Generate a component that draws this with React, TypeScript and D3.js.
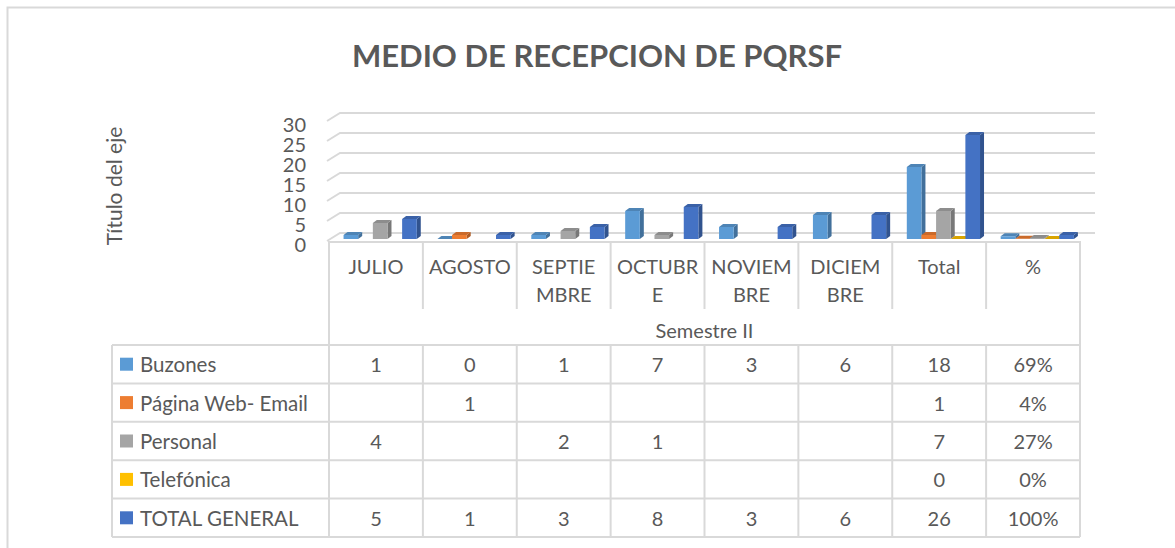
import * as d3 from 'd3';
import React, { useRef, useEffect, useCallback } from 'react';

// categories on the x axis (and the columns of the data table)
const categories = ["JULIO", "AGOSTO", "SEPTIEMBRE", "OCTUBRE", "NOVIEMBRE", "DICIEMBRE", "Total", "%"];
// how Excel wrapped them
const categoryLabels = [["JULIO"], ["AGOSTO"], ["SEPTIE", "MBRE"], ["OCTUBR", "E"], ["NOVIEM", "BRE"], ["DICIEM", "BRE"], ["Total"], ["%"]];

const seriesNames = ["Buzones", "Página Web- Email", "Personal", "Telefónica", "TOTAL GENERAL"];
const seriesColors = ["#5B9BD5", "#ED7D31", "#A5A5A5", "#FFC000", "#4472C4"];

// null = empty cell (no bar)
const buzones = [1, 0, 1, 7, 3, 6, 18, 0.69];
const paginaWeb = [null, 1, null, null, null, null, 1, 0.04];
const personal = [4, null, 2, 1, null, null, 7, 0.27];
const telefonica = [null, null, null, null, null, null, 0, 0];
const totalGeneral = [5, 1, 3, 8, 3, 6, 26, 1];

const yTicks = [0, 5, 10, 15, 20, 25, 30];

const seriesValues = [buzones, paginaWeb, personal, telefonica, totalGeneral];

function App() {
    const ref = useRef(null);
    const width = 1175;
    const height = 548;

    const draw = useCallback(() => {
        const svg = d3.select(ref.current);
        svg.selectAll("*").remove();

        const textColor = "#595959";
        const lineColor = "#D9D9D9";
        const font = "Lato, 'Open Sans', sans-serif";

        // chart frame
        svg.append("rect")
            .attr("x", 7.5).attr("y", 7.5)
            .attr("width", width + 20).attr("height", height + 20)
            .attr("fill", "white")
            .attr("stroke", lineColor)
            .attr("stroke-width", 2);

        svg.append("text")
            .attr("x", 597).attr("y", 55)
            .attr("text-anchor", "middle")
            .attr("dominant-baseline", "central")
            .attr("font-family", font)
            .attr("font-weight", "bold")
            .attr("font-size", 31)
            .attr("fill", textColor)
            .text("MEDIO DE RECEPCION DE PQRSF");

        const tableLeft = 112;
        const x0 = d3.scaleBand()
            .domain(categories)
            .range([329, 1080]);

        const bw = x0.bandwidth();
        const x1 = d3.scaleBand()
            .domain(seriesNames)
            .range([bw * 0.155, bw * 0.935]);

        const y = d3.scaleLinear()
            .domain([0, 30])
            .range([239, 119]);

        // back wall gridlines with the diagonal floor/side edge
        const grid = svg.append("g")
            .attr("stroke", lineColor)
            .attr("stroke-width", 2)
            .attr("fill", "none");
        grid.selectAll("path")
            .data(yTicks)
            .join("path")
            .attr("d", d => `M327,${y(d) + 2}L340,${y(d) - 6}L1095,${y(d) - 6}`);

        svg.append("g")
            .selectAll("text")
            .data(yTicks)
            .join("text")
            .attr("x", 306)
            .attr("y", d => y(d) + 5)
            .attr("text-anchor", "end")
            .attr("dominant-baseline", "central")
            .attr("font-family", font)
            .attr("font-size", 20)
            .attr("fill", textColor)
            .text(d => d);

        svg.append("text")
            .attr("transform", "translate(113,186) rotate(-90)")
            .attr("text-anchor", "middle")
            .attr("dominant-baseline", "central")
            .attr("font-family", font)
            .attr("font-size", 21)
            .attr("fill", textColor)
            .text("Título del eje");

        // 3D columns
        const dx = 4, dy = -3;
        const bars = [];
        categories.forEach((c, ci) => {
            seriesNames.forEach((s, si) => {
                const v = seriesValues[si][ci];
                if (v === null) return;
                bars.push({ c, s, v, color: seriesColors[si] });
            });
        });

        const barG = svg.append("g");
        bars.forEach(b => {
            const x = x0(b.c) + x1(b.s);
            const w = x1.bandwidth();
            const y0 = y(0);
            const yt = y(b.v);
            const g = barG.append("g");
            const base = d3.color(b.color);
            g.append("path")
                .attr("d", `M${x + w},${yt}L${x + w + dx},${yt + dy}L${x + w + dx},${y0 + dy}L${x + w},${y0}Z`)
                .attr("fill", base.darker(0.9).formatHex());
            g.append("path")
                .attr("d", `M${x},${yt}L${x + dx},${yt + dy}L${x + w + dx},${yt + dy}L${x + w},${yt}Z`)
                .attr("fill", base.darker(0.45).formatHex());
            g.append("rect")
                .attr("x", x).attr("y", yt)
                .attr("width", w).attr("height", y0 - yt)
                .attr("fill", b.color);
        });

        // data table
        const rowTop = 345, rowBottom = 537;
        const rows = d3.scaleBand()
            .domain(seriesNames)
            .range([rowTop, rowBottom]);

        const table = svg.append("g")
            .attr("stroke", lineColor)
            .attr("stroke-width", 2)
            .attr("fill", "none");

        // header box
        table.append("path").attr("d", `M329,${rowTop}L329,242L1080,242L1080,${rowTop}`);
        table.selectAll(".sep")
            .data(categories.slice(1))
            .join("line")
            .attr("x1", d => x0(d)).attr("x2", d => x0(d))
            .attr("y1", 242).attr("y2", 309);

        // rows
        table.selectAll(".hline")
            .data([...seriesNames.map(s => rows(s)), rowBottom])
            .join("line")
            .attr("x1", tableLeft).attr("x2", 1080)
            .attr("y1", d => d).attr("y2", d => d);
        table.selectAll(".vline")
            .data([tableLeft, ...categories.map(c => x0(c)), 1080])
            .join("line")
            .attr("x1", d => d).attr("x2", d => d)
            .attr("y1", rowTop).attr("y2", rowBottom);

        const labels = svg.append("g")
            .attr("font-family", font)
            .attr("font-size", 20)
            .attr("fill", textColor);

        categories.forEach((c, ci) => {
            categoryLabels[ci].forEach((line, li) => {
                labels.append("text")
                    .attr("x", x0(c) + bw / 2)
                    .attr("y", 266 + li * 28)
                    .attr("text-anchor", "middle")
                    .attr("dominant-baseline", "central")
                    .text(line);
            });
        });

        labels.append("text")
            .attr("x", (329 + 1080) / 2)
            .attr("y", 330)
            .attr("text-anchor", "middle")
            .attr("dominant-baseline", "central")
            .text("Semestre II");

        seriesNames.forEach((s, si) => {
            const cy = rows(s) + rows.bandwidth() / 2;
            svg.append("rect")
                .attr("x", 120).attr("y", cy - 6.5)
                .attr("width", 13).attr("height", 13)
                .attr("fill", seriesColors[si]);
            labels.append("text")
                .attr("x", 140)
                .attr("y", cy)
                .attr("dominant-baseline", "central")
                .attr("font-size", 20.5)
                .text(s);
            categories.forEach((c, ci) => {
                const v = seriesValues[si][ci];
                if (v === null) return;
                labels.append("text")
                    .attr("x", x0(c) + bw / 2)
                    .attr("y", cy)
                    .attr("text-anchor", "middle")
                    .attr("dominant-baseline", "central")
                    .text(c === "%" ? d3.format(".0%")(v) : v);
            });
        });
    }, []);

    useEffect(() => {
        draw();
    }, [draw]);

    return (
        <svg ref={ref} width={width} height={height}
            style={{ position: "absolute", left: 0, top: 0 }}>
        </svg>
    );
}

export default App;
